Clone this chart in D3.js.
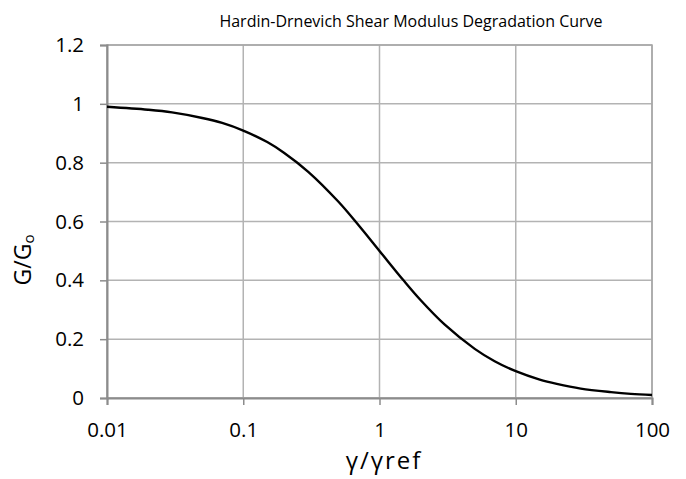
<!DOCTYPE html>
<html>
<head>
<meta charset="utf-8">
<script src="https://cdn.jsdelivr.net/npm/d3@7"></script>
<style>
  body { margin: 0; background: #fff; }
  text { font-family: "Open Sans", "Noto Sans", sans-serif; fill: #000; }
</style>
</head>
<body>
<svg id="chart"></svg>
<script>
// strain ratio and modulus ratio
const strainRatio = [0.01, 0.02, 0.03, 0.05, 0.07, 0.1, 0.15, 0.2, 0.3, 0.5, 0.7, 1, 1.5, 2, 3, 5, 7, 10, 15, 20, 30, 50, 70, 100];
const modulusRatio = [0.99, 0.98, 0.971, 0.952, 0.935, 0.909, 0.87, 0.833, 0.769, 0.667, 0.588, 0.5, 0.4, 0.333, 0.25, 0.167, 0.125, 0.091, 0.0625, 0.048, 0.032, 0.02, 0.014, 0.01];
const xTicks = [0.01, 0.1, 1, 10, 100];
const xTickLabels = ['0.01', '0.1', '1', '10', '100'];
const yTicks = [0, 0.2, 0.4, 0.6, 0.8, 1, 1.2];
const yTickLabels = ['0', '0.2', '0.4', '0.6', '0.8', '1', '1.2'];

const svg = d3.select('#chart').attr('width', 686).attr('height', 479);

const margin = { top: 45, right: 34, bottom: 81, left: 107 };
const width = 686 - margin.left - margin.right;
const height = 479 - margin.top - margin.bottom;
const g = svg.append('g').attr('transform', `translate(${margin.left},${margin.top})`);

const x = d3.scaleLog().domain([0.01, 100]).range([0, width]);
const y = d3.scaleLinear().domain([0, 1.2]).range([height, 0]);

// gridlines
g.append('g').selectAll('line')
  .data(xTicks).enter().append('line')
  .attr('x1', d => x(d)).attr('x2', d => x(d))
  .attr('y1', 0).attr('y2', height)
  .attr('stroke', '#b3b3b3').attr('stroke-width', 1.5);
g.append('g').selectAll('line')
  .data(yTicks).enter().append('line')
  .attr('x1', 0).attr('x2', width)
  .attr('y1', d => y(d)).attr('y2', d => y(d))
  .attr('stroke', '#b3b3b3').attr('stroke-width', 1.5);

// plot border
g.append('rect').attr('width', width).attr('height', height)
  .attr('fill', 'none').attr('stroke', '#a6a6a6').attr('stroke-width', 1.5);

const xAxis = g.append('g')
  .attr('transform', `translate(0,${height})`)
  .call(d3.axisBottom(x).tickValues(xTicks).tickFormat((d, i) => xTickLabels[i]).tickSize(7).tickPadding(17));
const yAxis = g.append('g')
  .call(d3.axisLeft(y).tickValues(yTicks).tickFormat((d, i) => yTickLabels[i]).tickSize(7).tickPadding(16));

[xAxis, yAxis].forEach(a => {
  a.select('.domain').attr('stroke', '#8c8c8c').attr('stroke-width', 2);
  a.selectAll('.tick line').attr('stroke', '#8c8c8c').attr('stroke-width', 1.5);
  a.selectAll('.tick text').style('font-size', '20.5px').attr('fill', '#000');
});

const line = d3.line()
  .x((d, i) => x(strainRatio[i]))
  .y(d => y(d))
  .curve(d3.curveCatmullRom);

g.append('path')
  .datum(modulusRatio)
  .attr('d', line)
  .attr('fill', 'none')
  .attr('stroke', '#000')
  .attr('stroke-width', 2.4);

svg.append('text')
  .attr('x', 411).attr('y', 27)
  .attr('text-anchor', 'middle')
  .style('font-size', '16px')
  .text('Hardin-Drnevich Shear Modulus Degradation Curve');

svg.append('text')
  .attr('x', 384).attr('y', 469)
  .attr('text-anchor', 'middle')
  .style('font-size', '24px')
  .style('letter-spacing', '2px')
  .text('γ/γref');

const yt = svg.append('text')
  .attr('transform', 'translate(31,260) rotate(-90)')
  .attr('text-anchor', 'middle')
  .style('font-size', '23px');
yt.append('tspan').text('G/G');
yt.append('tspan').attr('dy', 3).style('font-size', '15px').text('o');
</script>
</body>
</html>
